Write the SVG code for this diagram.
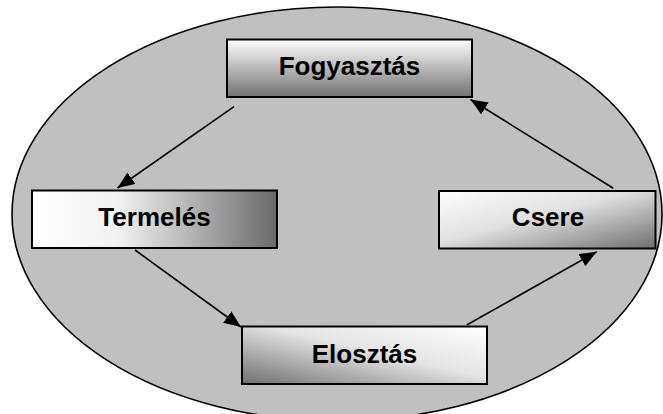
<svg xmlns="http://www.w3.org/2000/svg" width="663" height="414" viewBox="0 0 663 414">
<defs>
<linearGradient id="gV" x1="0" y1="0" x2="0" y2="1"><stop offset="0" stop-color="#ffffff"/><stop offset="1" stop-color="#727272"/></linearGradient>
<linearGradient id="gH" x1="0" y1="0" x2="1" y2="0"><stop offset="0" stop-color="#ffffff"/><stop offset="0.35" stop-color="#f2f2f2"/><stop offset="1" stop-color="#6a6a6a"/></linearGradient>
<linearGradient id="gD1" x1="0" y1="0" x2="1" y2="1"><stop offset="0" stop-color="#ffffff"/><stop offset="0.45" stop-color="#e0e0e0"/><stop offset="1" stop-color="#6e6e6e"/></linearGradient>
<linearGradient id="gD2" x1="0" y1="1" x2="1" y2="0"><stop offset="0" stop-color="#6e6e6e"/><stop offset="0.55" stop-color="#e4e4e4"/><stop offset="1" stop-color="#ffffff"/></linearGradient>
<marker id="ah" markerUnits="userSpaceOnUse" markerWidth="18" markerHeight="14" refX="17" refY="7" orient="auto"><path d="M0,0 L17,7 L0,14 Z" fill="#000"/></marker>
</defs>
<style>
.box{stroke:#000;stroke-width:2}
.lbl{font-family:"Liberation Sans",Arial,sans-serif;font-weight:bold;font-size:26px;fill:#000;text-anchor:middle}
.con line{stroke:#000;stroke-width:1.6;marker-end:url(#ah)}
</style>
<ellipse cx="337" cy="214" rx="325" ry="207" fill="#c0c0c0" stroke="#000" stroke-width="1.6"/>
<g id="fogyasztas"><rect class="box" x="227" y="39.5" width="245" height="57.5" fill="url(#gV)"/><text class="lbl" x="349.5" y="75">Fogyasztás</text></g>
<g id="termeles"><rect class="box" x="32" y="190.5" width="245" height="57.5" fill="url(#gH)"/><text class="lbl" x="154.5" y="226">Termelés</text></g>
<g id="csere"><rect class="box" x="439" y="191" width="216.5" height="57.5" fill="url(#gD1)"/><text class="lbl" x="548" y="226">Csere</text></g>
<g id="elosztas"><rect class="box" x="242" y="326.5" width="245" height="57.5" fill="url(#gD2)"/><text class="lbl" x="364.5" y="363">Elosztás</text></g>
<g class="con" id="connectors">
<line x1="234" y1="106.7" x2="117.5" y2="188"/>
<line x1="135" y1="250" x2="241" y2="327"/>
<line x1="466.7" y1="325" x2="596.7" y2="251.7"/>
<line x1="613.3" y1="188.3" x2="470.5" y2="99.5"/>
</g>
</svg>
